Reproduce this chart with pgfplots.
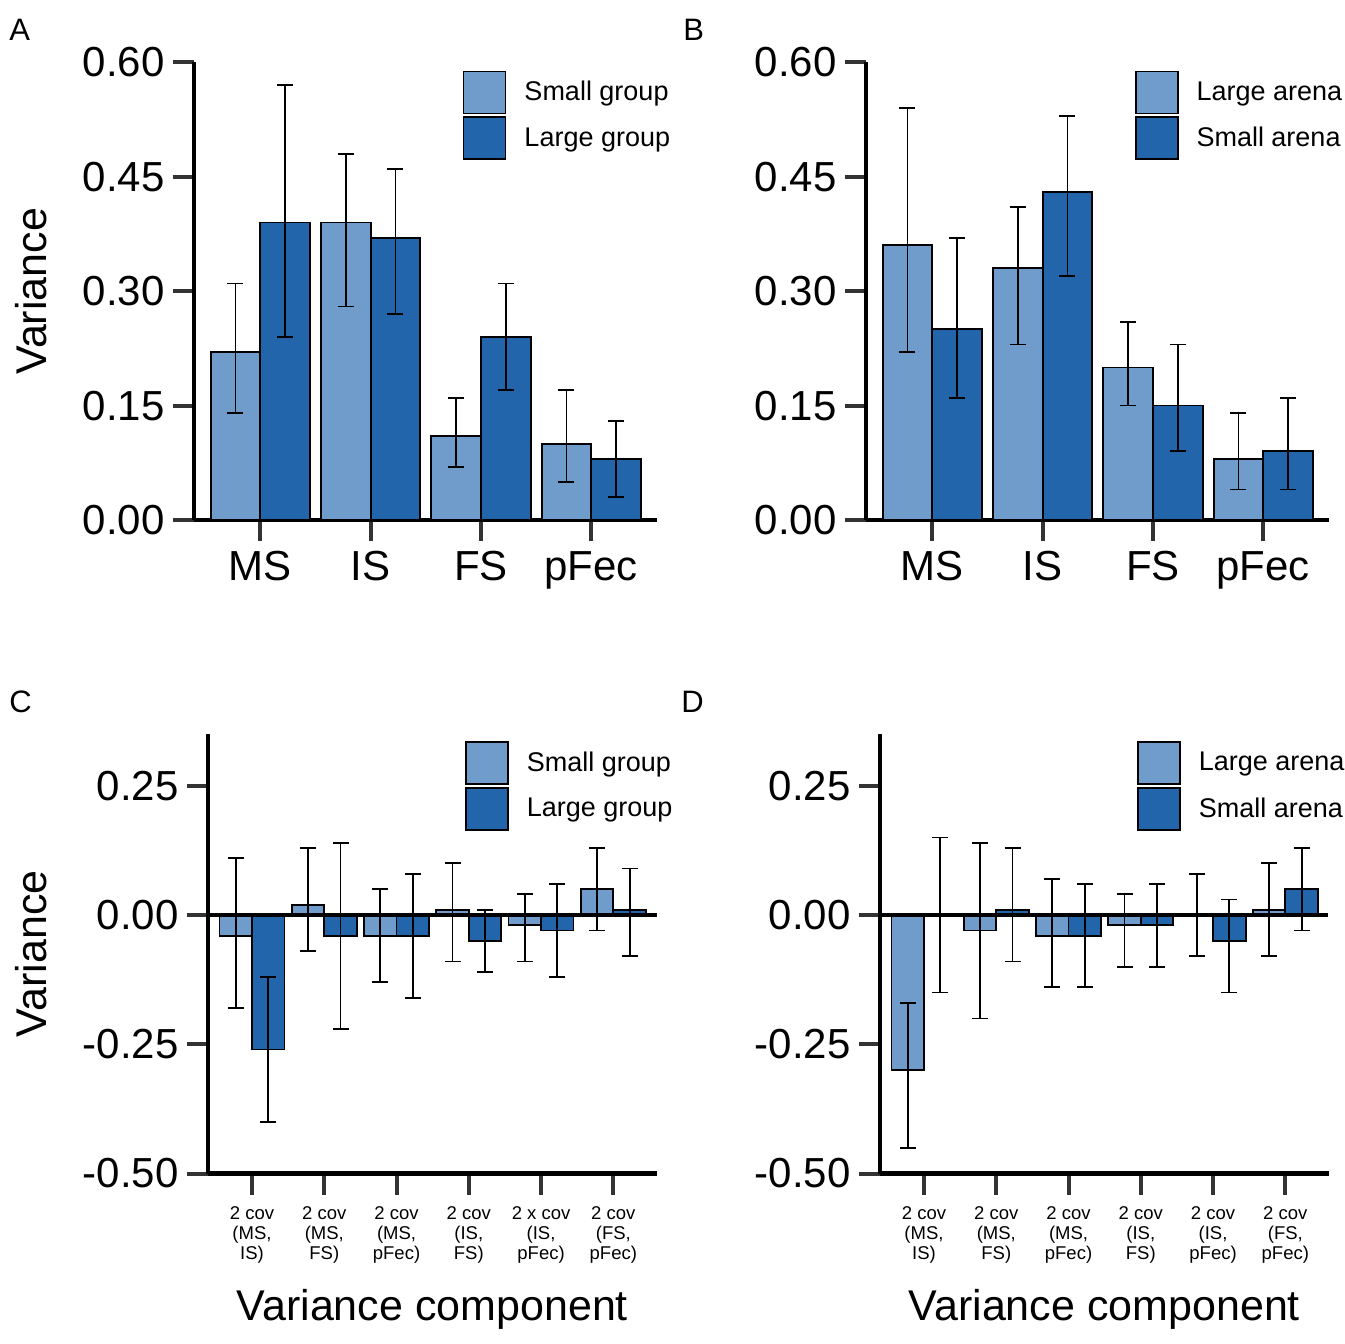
\documentclass[border=0pt]{standalone}
\usepackage{pgfplots}
\pgfplotsset{compat=1.18}
\usepackage{fontspec}
\setmainfont{Liberation Sans}
\definecolor{lightb}{HTML}{709CCB}
\definecolor{darkb}{HTML}{2265AB}
\newcommand{\bigf}{\fontsize{21}{24}\selectfont}
\newcommand{\labf}{\fontsize{21.5}{25}\selectfont}
\newcommand{\legf}{\fontsize{13.5}{16}\selectfont}
\newcommand{\smf}{\fontsize{9.25}{10}\selectfont}
\newcommand{\panf}{\fontsize{15.5}{18}\selectfont}
\pgfplotsset{
  legboxc/.style={legend image code/.code={\draw[fill=#1,draw=black,line width=0.9pt] (0pt,-10.5pt) rectangle (21pt,10.5pt);}},
  base/.style={
    scale only axis, axis lines*=left,
    axis line style={line width=2.2pt, black},
    tick align=outside, major tick length=10.5pt,
    tick style={line width=2pt, draw=black!80},
    clip=false, ybar, bar width=0.45,
    yticklabel style={font=\bigf, inner sep=0pt, xshift=-4pt},
    legend cell align=left,
    legend style={draw=none, fill=none, inner sep=0pt, outer sep=0pt, row sep=1pt, column sep=9pt, font=\legf, nodes={inner sep=0pt, outer sep=0pt}, anchor=north west},
    every axis y label/.style={rotate=90, anchor=center, font=\labf},
    every axis x label/.style={at={([yshift=-73.25pt]axis description cs:0.5,0)}, anchor=base, font=\labf},
  },
  errs/.style={
    /pgfplots/error bars/y dir=both, /pgfplots/error bars/y explicit,
    /pgfplots/error bars/error bar style={line width=0.9pt, black},
    /pgfplots/error bars/error mark=-,
    /pgfplots/error bars/error mark options={black, line width=0.9pt, mark size=4pt, rotate=90},
  },
  lightbar/.style={bar shift=-0.225, draw=black, fill=lightb, line width=0.9pt, errs, legboxc=lightb},
  darkbar/.style={bar shift=0.225, draw=black, fill=darkb, line width=0.9pt, errs, legboxc=darkb},
  topaxis/.style={base, width=231.35pt, height=228.85pt, xmin=0.399, xmax=4.593, ymin=0, ymax=0.6,
    ytick={0,0.15,0.30,0.45,0.60}, yticklabels={0.00,0.15,0.30,0.45,0.60},
    xtick={1,2,3,4}, xticklabels={MS,IS,FS,pFec}, xticklabel style={font=\bigf, inner sep=0pt, yshift=-5pt},
    legend style={at={(0.5807,0.9817)}}},
  botaxis/.style={base, width=224.35pt, height=219.75pt, xmin=0.391, xmax=6.6, ymin=-0.5, ymax=0.35,
    ytick={-0.5,-0.25,0,0.25}, yticklabels={-0.50,-0.25,0.00,0.25},
    xtick={1,2,3,4,5,6}, xticklabel style={font=\smf, align=center, inner sep=0pt, yshift=-6pt},
    legend style={at={(0.5728,0.984)}}, xlabel={Variance component}},
}
\begin{document}
\begin{tikzpicture}
\path[use as bounding box] (0,0) rectangle (672pt,-672pt);
% Panel A
\begin{axis}[topaxis, at={(97pt,-260pt)}, anchor=south west,
  ylabel={Variance}, ylabel style={at={([xshift=-81.5pt]axis description cs:0,0.5)}}]
\addplot[lightbar] coordinates {(1,0.22) += (0,0.09) -= (0,0.08) (2,0.39) += (0,0.09) -= (0,0.11) (3,0.11) += (0,0.05) -= (0,0.04) (4,0.10) += (0,0.07) -= (0,0.05)};
\addlegendentry{Small group}
\addplot[darkbar] coordinates {(1,0.39) += (0,0.18) -= (0,0.15) (2,0.37) += (0,0.09) -= (0,0.10) (3,0.24) += (0,0.07) -= (0,0.07) (4,0.08) += (0,0.05) -= (0,0.05)};
\addlegendentry{Large group}
\end{axis}
% Panel B
\begin{axis}[topaxis, at={(433pt,-260pt)}, anchor=south west]
\addplot[lightbar] coordinates {(1,0.36) += (0,0.18) -= (0,0.14) (2,0.33) += (0,0.08) -= (0,0.10) (3,0.20) += (0,0.06) -= (0,0.05) (4,0.08) += (0,0.06) -= (0,0.04)};
\addlegendentry{Large arena}
\addplot[darkbar] coordinates {(1,0.25) += (0,0.12) -= (0,0.09) (2,0.43) += (0,0.10) -= (0,0.11) (3,0.15) += (0,0.08) -= (0,0.06) (4,0.09) += (0,0.07) -= (0,0.05)};
\addlegendentry{Small arena}
\end{axis}
% Panel C
\begin{axis}[botaxis, at={(104pt,-586.75pt)}, anchor=south west,
  xticklabels={{2 cov\\(MS,\\IS)},{2 cov\\(MS,\\FS)},{2 cov\\(MS,\\pFec)},{2 cov\\(IS,\\FS)},{2 x cov\\(IS,\\pFec)},{2 cov\\(FS,\\pFec)}},
  ylabel={Variance}, ylabel style={at={([xshift=-88.5pt]axis description cs:0,0.5)}}]
\addplot[lightbar] coordinates {(1,-0.04) += (0,0.15) -= (0,0.14) (2,0.02) += (0,0.11) -= (0,0.09) (3,-0.04) += (0,0.09) -= (0,0.09) (4,0.01) += (0,0.09) -= (0,0.10) (5,-0.02) += (0,0.06) -= (0,0.07) (6,0.05) += (0,0.08) -= (0,0.08)};
\addlegendentry{Small group}
\addplot[darkbar] coordinates {(1,-0.26) += (0,0.14) -= (0,0.14) (2,-0.04) += (0,0.18) -= (0,0.18) (3,-0.04) += (0,0.12) -= (0,0.12) (4,-0.05) += (0,0.06) -= (0,0.06) (5,-0.03) += (0,0.09) -= (0,0.09) (6,0.01) += (0,0.08) -= (0,0.09)};
\addlegendentry{Large group}
\addplot[sharp plot, black, line width=2.2pt, mark=none, forget plot] coordinates {(0.391,0) (6.6,0)};
\end{axis}
% Panel D
\begin{axis}[botaxis, at={(440pt,-586.75pt)}, anchor=south west,
  xticklabels={{2 cov\\(MS,\\IS)},{2 cov\\(MS,\\FS)},{2 cov\\(MS,\\pFec)},{2 cov\\(IS,\\FS)},{2 cov\\(IS,\\pFec)},{2 cov\\(FS,\\pFec)}}]
\addplot[lightbar] coordinates {(1,-0.30) += (0,0.13) -= (0,0.15) (2,-0.03) += (0,0.17) -= (0,0.17) (3,-0.04) += (0,0.11) -= (0,0.10) (4,-0.02) += (0,0.06) -= (0,0.08) (5,0.00) += (0,0.08) -= (0,0.08) (6,0.01) += (0,0.09) -= (0,0.09)};
\addlegendentry{Large arena}
\addplot[darkbar] coordinates {(1,0.00) += (0,0.15) -= (0,0.15) (2,0.01) += (0,0.12) -= (0,0.10) (3,-0.04) += (0,0.10) -= (0,0.10) (4,-0.02) += (0,0.08) -= (0,0.08) (5,-0.05) += (0,0.08) -= (0,0.10) (6,0.05) += (0,0.08) -= (0,0.08)};
\addlegendentry{Small arena}
\addplot[sharp plot, black, line width=2.2pt, mark=none, forget plot] coordinates {(0.387,0) (6.596,0)};
\end{axis}
\node[font=\panf, anchor=base west, inner sep=0pt] at (4.5pt,-20.35pt) {A};
\node[font=\panf, anchor=base west, inner sep=0pt] at (341.5pt,-20.35pt) {B};
\node[font=\panf, anchor=base west, inner sep=0pt] at (4.5pt,-356.35pt) {C};
\node[font=\panf, anchor=base west, inner sep=0pt] at (340.5pt,-356.35pt) {D};
\end{tikzpicture}
\end{document}
